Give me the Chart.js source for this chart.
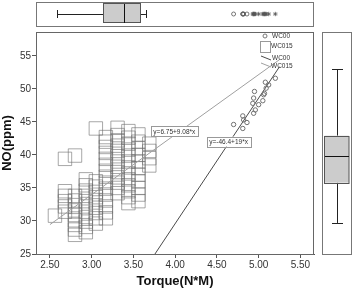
<!DOCTYPE html>
<html>
<head>
<meta charset="utf-8">
<script src="https://cdn.jsdelivr.net/npm/chart.js@4.4.0/dist/chart.umd.min.js"></script>
<style>
html,body{margin:0;padding:0;background:#fff;}
</style>
</head>
<body>
<canvas id="myChart" width="354" height="291"></canvas>
<script>
// axis ticks
var xTicks=[2.5,3.0,3.5,4.0,4.5,5.0,5.5];
var yTicks=[25,30,35,40,45,50,55];

// WC00 group (circles)
var wc00X=[4.70,4.81,4.82,4.81,4.86,4.93,4.94,4.94,4.95,4.96,5.00,5.05,5.06,5.07,5.08,5.09,5.12,5.20];
var wc00Y=[44.6,44.0,45.3,45.9,44.9,47.8,46.3,48.6,49.6,46.8,47.6,48.2,49.1,49.3,51.0,50.1,50.6,51.6];

// WC015 group (squares)
var wc015X=[2.56,
 2.68,2.68,2.68,2.68,2.68,2.68,
 2.80,2.80,2.80,2.80,2.80,2.80,2.80,2.80,2.80,2.80,
 2.93,2.93,2.93,2.93,2.93,2.93,2.93,2.93,2.93,2.93,2.93,
 3.05,3.05,3.05,3.05,3.05,3.05,3.05,3.05,3.05,3.05,
 3.17,3.17,3.17,3.17,3.17,3.17,3.17,3.17,3.17,3.17,3.17,3.17,3.17,3.17,3.17,
 3.31,3.31,3.31,3.31,3.31,3.31,3.31,3.31,3.31,3.31,3.31,3.31,3.31,
 3.44,3.44,3.44,3.44,3.44,3.44,3.44,3.44,3.44,3.44,3.44,3.44,3.44,
 3.56,3.56,3.56,3.56,3.56,3.56,3.56,3.56,3.56,3.56,3.56,
 3.69,3.69,3.69,3.69];
var wc015Y=[30.8,
 31.4,32.2,33.0,33.8,34.5,39.4,
 27.9,28.7,29.4,30.1,30.9,31.6,32.4,33.1,33.8,39.9,
 28.3,29.1,29.9,30.6,31.4,32.2,33.0,33.8,34.6,35.4,36.3,
 29.6,30.4,31.2,32.0,32.8,33.6,34.4,35.2,36.0,44.0,
 30.4,31.3,32.2,33.1,34.0,34.9,35.8,36.7,37.6,38.5,39.4,40.3,41.2,42.0,42.7,
 34.2,35.0,35.8,36.6,37.4,38.2,39.0,39.8,40.6,41.4,42.2,43.0,44.1,
 32.7,33.6,34.5,35.4,36.3,37.2,38.1,39.0,39.9,40.8,41.7,42.6,43.6,
 33.0,34.0,35.0,36.0,37.0,38.0,39.0,40.0,41.0,42.0,43.1,
 38.4,39.5,40.6,41.7];

// fit lines: WC00, WC015
var fitNames=['WC00','WC015'];
var fitIntercept=[-46.4,6.75];
var fitSlope=[19,9.08];
var fitRange=[2.5,5.25];
var fitLabels=['y=-46.4+19*x','y=6.75+9.08*x'];
var fitLabelX=[4.64,3.99];
var fitLabelY=[42.0,43.56];
var fitColors=['#4a4a4a','#a0a0a0'];

// marginal box plots [min, q1, median, q3, max]
var torqueBox=[2.59,3.14,3.385,3.58,3.65];
var noBox=[29.7,35.8,39.85,42.9,53.0];

var FONT='"Liberation Sans", Arial, sans-serif';

function pts(xs,ys){
    var out=[];
    for(var i=0;i<xs.length;i++){ out.push({x:xs[i],y:ys[i]}); }
    return out;
}
function fitPts(k){
    return fitRange.map(function(x){ return {x:x,y:fitIntercept[k]+fitSlope[k]*x}; });
}

var extrasPlugin={
    id:'extras',
    afterDraw:function(chart){
        var ctx=chart.ctx, a=chart.chartArea;
        var xs=chart.scales.x, ys=chart.scales.y;
        ctx.save();
        // plot frame
        ctx.strokeStyle='#666'; ctx.lineWidth=1;
        ctx.strokeRect(a.left+0.5,a.top+0.5,a.right-a.left-1,a.bottom-a.top);

        // fit line labels
        ctx.font='6.5px '+FONT;
        ctx.textBaseline='middle'; ctx.textAlign='center';
        for(var k=0;k<fitLabels.length;k++){
            var cx=xs.getPixelForValue(fitLabelX[k]), cy=ys.getPixelForValue(fitLabelY[k]);
            var w=ctx.measureText(fitLabels[k]).width+5;
            ctx.fillStyle='#fff';
            ctx.fillRect(cx-w/2,cy-5,w,10);
            ctx.strokeStyle='#999';
            ctx.strokeRect(Math.round(cx-w/2)+0.5,Math.round(cy-5)+0.5,Math.round(w),10);
            ctx.fillStyle='#333';
            ctx.fillText(fitLabels[k],cx,cy+0.5);
        }

        // legend
        var lx=a.right-53, ly=a.top;
        ctx.textAlign='left';
        ctx.strokeStyle='#777';
        ctx.beginPath(); ctx.arc(lx+4,ly+4,2,0,Math.PI*2); ctx.stroke();
        ctx.fillStyle='#333';
        ctx.fillText('WC00',lx+11,ly+4);
        ctx.strokeStyle='#999';
        ctx.strokeRect(lx-0.5,ly+9.5,10,11);
        ctx.fillText('WC015',lx+10,ly+14);
        ctx.strokeStyle=fitColors[0];
        ctx.beginPath(); ctx.moveTo(lx,ly+24); ctx.lineTo(lx+10,ly+28); ctx.stroke();
        ctx.fillText('WC00',lx+11,ly+26.5);
        ctx.strokeStyle=fitColors[1];
        ctx.beginPath(); ctx.moveTo(lx,ly+31); ctx.lineTo(lx+10,ly+35); ctx.stroke();
        ctx.fillText('WC015',lx+10,ly+34.5);

        // top box plot (Torque)
        var pTop=2, pBot=26, mid=14;
        ctx.strokeStyle='#777';
        ctx.strokeRect(a.left+0.5,pTop+0.5,a.right-a.left-1,pBot-pTop);
        var b=torqueBox.map(function(v){return xs.getPixelForValue(v);});
        ctx.strokeStyle='#222';
        ctx.beginPath();
        ctx.moveTo(b[0],mid+0.5); ctx.lineTo(b[1],mid+0.5);
        ctx.moveTo(b[3],mid+0.5); ctx.lineTo(b[4],mid+0.5);
        ctx.moveTo(Math.round(b[0])+0.5,10); ctx.lineTo(Math.round(b[0])+0.5,18);
        ctx.moveTo(Math.round(b[4])+0.5,10); ctx.lineTo(Math.round(b[4])+0.5,18);
        ctx.stroke();
        ctx.fillStyle='#cccccc';
        ctx.fillRect(b[1],4,b[3]-b[1],19);
        ctx.strokeStyle='#555';
        ctx.strokeRect(Math.round(b[1])+0.5,3.5,Math.round(b[3]-b[1]),19);
        ctx.strokeStyle='#111';
        ctx.beginPath(); ctx.moveTo(Math.round(b[2])+0.5,4); ctx.lineTo(Math.round(b[2])+0.5,23); ctx.stroke();
        // outliers / extremes from the WC00 torque values
        var iqr=torqueBox[3]-torqueBox[1];
        ctx.strokeStyle='#555'; ctx.lineWidth=0.8;
        wc00X.forEach(function(v){
            var px=xs.getPixelForValue(v);
            if(v>torqueBox[3]+3*iqr){
                Chart.helpers.drawPoint(ctx,{pointStyle:'star',radius:2.2,borderWidth:0.8},px,mid);
            } else {
                ctx.beginPath(); ctx.arc(px,mid,2,0,Math.PI*2); ctx.stroke();
            }
        });
        ctx.lineWidth=1;

        // right box plot (NO)
        var rL=322, rR=352, rMid=337;
        ctx.strokeStyle='#777';
        ctx.strokeRect(rL+0.5,a.top+0.5,rR-rL-1,a.bottom-a.top);
        var c=noBox.map(function(v){return ys.getPixelForValue(v);});
        ctx.strokeStyle='#222';
        ctx.beginPath();
        ctx.moveTo(rMid+0.5,c[0]); ctx.lineTo(rMid+0.5,c[1]);
        ctx.moveTo(rMid+0.5,c[3]); ctx.lineTo(rMid+0.5,c[4]);
        ctx.moveTo(332,Math.round(c[0])+0.5); ctx.lineTo(343,Math.round(c[0])+0.5);
        ctx.moveTo(332,Math.round(c[4])+0.5); ctx.lineTo(343,Math.round(c[4])+0.5);
        ctx.stroke();
        ctx.fillStyle='#cccccc';
        ctx.fillRect(324.5,c[3],24.5,c[1]-c[3]);
        ctx.strokeStyle='#555';
        ctx.strokeRect(324.5,Math.round(c[3])+0.5,24.5,Math.round(c[1]-c[3]));
        ctx.strokeStyle='#111';
        ctx.beginPath(); ctx.moveTo(325,Math.round(c[2])+0.5); ctx.lineTo(349,Math.round(c[2])+0.5); ctx.stroke();
        ctx.restore();
    }
};

var ctx=document.getElementById('myChart').getContext('2d');
var myChart=new Chart(ctx,{
    type:'scatter',
    data:{
        datasets:[
            {label:'WC00',data:pts(wc00X,wc00Y),pointStyle:'circle',pointRadius:2.2,
             borderColor:'#707070',backgroundColor:'rgba(0,0,0,0)',borderWidth:1},
            {label:'WC00 fit',data:fitPts(0),showLine:true,pointRadius:0,
             borderColor:fitColors[0],borderWidth:1},
            {label:'WC015 fit',data:fitPts(1),showLine:true,pointRadius:0,
             borderColor:fitColors[1],borderWidth:1},
            {label:'WC015',data:pts(wc015X,wc015Y),pointStyle:'rect',pointRadius:9.5,
             borderColor:'rgba(110,110,110,0.6)',backgroundColor:'rgba(0,0,0,0)',borderWidth:1}
        ]
    },
    options:{
        responsive:false,
        animation:false,
        layout:{padding:{top:32,right:40,left:0,bottom:0}},
        plugins:{legend:{display:false},tooltip:{enabled:false}},
        scales:{
            x:{
                type:'linear',min:2.333,max:5.663,
                afterBuildTicks:function(s){ s.ticks=xTicks.map(function(v){return {value:v};}); },
                afterFit:function(s){ s.height=37; },
                ticks:{autoSkip:false,maxRotation:0,padding:1,color:'#333',
                       font:{family:FONT,size:10},
                       callback:function(v){ return Number(v).toFixed(2); }},
                grid:{drawOnChartArea:false,tickLength:4,color:'#555'},
                border:{display:true,color:'#555'},
                title:{display:true,text:'Torque(N*M)',color:'#111',
                       font:{family:FONT,size:13,weight:'bold'},padding:{top:0,bottom:2}}
            },
            y:{
                type:'linear',min:25,max:58.6,
                afterBuildTicks:function(s){ s.ticks=yTicks.map(function(v){return {value:v};}); },
                afterFit:function(s){ s.width=36; },
                ticks:{autoSkip:false,padding:1,color:'#333',font:{family:FONT,size:10}},
                grid:{drawOnChartArea:false,tickLength:4,color:'#555'},
                border:{display:true,color:'#555'},
                title:{display:true,text:'NO(ppm)',color:'#111',
                       font:{family:FONT,size:13,weight:'bold'},padding:{top:0,bottom:0}}
            }
        }
    },
    plugins:[extrasPlugin]
});
</script>
</body>
</html>
